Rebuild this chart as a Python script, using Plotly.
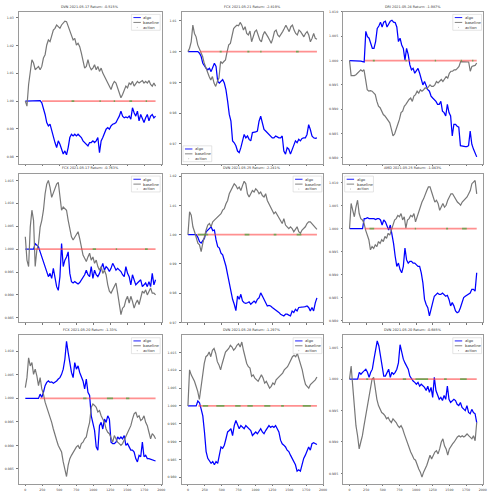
import numpy as np
import plotly.graph_objects as go
from plotly.subplots import make_subplots

W, H = 492, 493

# ---------------- data ----------------
titles = [
    "DVN 2021-05-17 Return: -0.515%",
    "FCX 2021-05-21 Return: -2.819%",
    "DRI 2021-05-24 Return: -1.987%",
    "FCX 2021-05-17 Return: -0.763%",
    "DVN 2021-05-25 Return: -2.241%",
    "AMD 2021-05-25 Return: -1.043%",
    "FCX 2021-05-20 Return: -1.33%",
    "DVN 2021-05-28 Return: -1.297%",
    "DVN 2021-05-20 Return: -0.685%",
]

# last time step of each session
end_step = [1915, 1910, 1910, 1915, 1910, 1910, 1915, 1910, 1910]

algo_1 = [1.0000, 1.0000, 1.0000, 1.0000, 1.0000, 1.0000, 1.0000, 1.0000, 1.0000, 1.0002,
          0.9994, 0.9976, 0.9952, 0.9923, 0.9911, 0.9917, 0.9893, 0.9869, 0.9851, 0.9833,
          0.9857, 0.9845, 0.9827, 0.9810, 0.9821, 0.9807, 0.9833, 0.9869, 0.9881, 0.9875,
          0.9881, 0.9875, 0.9881, 0.9875, 0.9869, 0.9857, 0.9851, 0.9845, 0.9839, 0.9851,
          0.9851, 0.9857, 0.9851, 0.9857, 0.9869, 0.9815, 0.9857, 0.9869, 0.9887, 0.9899,
          0.9905, 0.9899, 0.9911, 0.9917, 0.9919, 0.9923, 0.9935, 0.9946, 0.9964, 0.9946,
          0.9940, 0.9943, 0.9940, 0.9946, 0.9935, 0.9976, 0.9958, 0.9946, 0.9964, 0.9929,
          0.9952, 0.9935, 0.9923, 0.9940, 0.9952, 0.9929, 0.9946, 0.9952, 0.9940, 0.9946]
base_1 = [1.0000, 0.9982, 1.0060, 1.0101, 1.0149, 1.0137, 1.0113, 1.0119, 1.0125, 1.0113,
          1.0125, 1.0155, 1.0167, 1.0202, 1.0220, 1.0214, 1.0232, 1.0256, 1.0262, 1.0274,
          1.0268, 1.0262, 1.0274, 1.0283, 1.0288, 1.0286, 1.0268, 1.0256, 1.0238, 1.0220,
          1.0226, 1.0202, 1.0208, 1.0196, 1.0173, 1.0143, 1.0119, 1.0125, 1.0149, 1.0125,
          1.0113, 1.0119, 1.0131, 1.0113, 1.0125, 1.0107, 1.0119, 1.0101, 1.0089, 1.0077,
          1.0071, 1.0054, 1.0042, 1.0060, 1.0071, 1.0065, 1.0048, 1.0030, 1.0012, 1.0024,
          1.0042, 1.0054, 1.0048, 1.0065, 1.0060, 1.0071, 1.0054, 1.0065, 1.0071, 1.0065,
          1.0071, 1.0074, 1.0065, 1.0071, 1.0065, 1.0074, 1.0060, 1.0054, 1.0065, 1.0054]

algo_2 = [1.0000, 1.0000, 1.0000, 1.0000, 1.0000, 1.0000, 1.0000,
          0.9995, 0.9984, 0.9962, 0.9952, 0.9946, 0.9941, 0.9946, 0.9935, 0.9946, 0.9962,
          0.9952, 0.9903, 0.9898, 0.9903, 0.9909, 0.9898, 0.9876, 0.9839, 0.9796, 0.9774,
          0.9710, 0.9704, 0.9694, 0.9677, 0.9672, 0.9688, 0.9710, 0.9731, 0.9720, 0.9726,
          0.9715, 0.9710, 0.9737, 0.9737, 0.9739, 0.9742, 0.9774, 0.9790, 0.9769, 0.9747,
          0.9742, 0.9737, 0.9731, 0.9726, 0.9720, 0.9720, 0.9726, 0.9723, 0.9720, 0.9720,
          0.9726, 0.9677, 0.9667, 0.9688, 0.9683, 0.9667, 0.9683, 0.9699, 0.9710, 0.9704,
          0.9715, 0.9710, 0.9718, 0.9720, 0.9720, 0.9731, 0.9763, 0.9747, 0.9726, 0.9720,
          0.9718, 0.9720]
base_2 = [1.0000,
          1.0011, 1.0032, 1.0086, 1.0059, 1.0048, 1.0022, 1.0011, 1.0000, 0.9984, 0.9962,
          0.9946, 0.9935, 0.9919, 0.9908, 0.9919, 0.9898, 0.9887, 0.9903, 0.9914, 0.9968,
          0.9962, 0.9968, 0.9973, 1.0000, 1.0022, 1.0027, 1.0054, 1.0075, 1.0081, 1.0086,
          1.0084, 1.0095, 1.0086, 1.0070, 1.0081, 1.0059, 1.0054, 1.0067, 1.0032, 1.0048,
          1.0065, 1.0070, 1.0054, 1.0038, 1.0032, 1.0054, 1.0065, 1.0054, 1.0048, 1.0038,
          1.0027, 1.0043, 1.0065, 1.0070, 1.0054, 1.0048, 1.0059, 1.0065, 1.0075, 1.0086,
          1.0075, 1.0065, 1.0081, 1.0086, 1.0070, 1.0059, 1.0054, 1.0070, 1.0065, 1.0054,
          1.0048, 1.0059, 1.0065, 1.0054, 1.0032, 1.0043, 1.0059, 1.0043, 1.0040]

algo_3 = [1.0000, 1.0000, 1.0000, 1.0000, 1.0000, 1.0000, 1.0000, 0.9999, 0.9998, 0.9997,
          1.0060, 1.0049, 1.0046, 1.0035, 1.0025, 1.0025, 1.0039, 1.0066, 1.0071, 1.0079,
          1.0069, 1.0079, 1.0081, 1.0069, 1.0074, 1.0081, 1.0083, 1.0079, 1.0078, 1.0069,
          1.0039, 1.0046, 1.0032, 1.0025, 1.0001, 1.0025, 1.0012, 0.9991, 0.9981, 0.9984,
          0.9974, 0.9978, 0.9984, 0.9974, 0.9964, 0.9950, 0.9957, 0.9947, 0.9940, 0.9937,
          0.9927, 0.9923, 0.9920, 0.9916, 0.9910, 0.9910, 0.9916, 0.9896, 0.9893, 0.9886,
          0.9910, 0.9893, 0.9886, 0.9845, 0.9869, 0.9869, 0.9865, 0.9863, 0.9825, 0.9824,
          0.9823, 0.9823, 0.9823, 0.9825, 0.9855, 0.9828, 0.9818, 0.9808, 0.9802]
base_3 = [1.0000, 0.9969, 0.9969, 0.9969, 0.9971, 0.9974, 0.9978, 0.9981, 0.9978, 0.9981, 0.9961,
          0.9940, 0.9937, 0.9938, 0.9937, 0.9933, 0.9930, 0.9916, 0.9906, 0.9903, 0.9896,
          0.9889, 0.9886, 0.9882, 0.9876, 0.9872, 0.9859, 0.9845, 0.9849, 0.9862, 0.9869,
          0.9879, 0.9893, 0.9896, 0.9906, 0.9910, 0.9916, 0.9920, 0.9923, 0.9916, 0.9927,
          0.9930, 0.9937, 0.9933, 0.9940, 0.9937, 0.9940, 0.9944, 0.9942, 0.9947, 0.9950,
          0.9947, 0.9947, 0.9950, 0.9957, 0.9954, 0.9957, 0.9961, 0.9957, 0.9961, 0.9967,
          0.9964, 0.9974, 0.9978, 0.9978, 0.9981, 0.9981, 0.9984, 0.9988, 0.9998, 0.9998,
          0.9998, 0.9998, 0.9998, 0.9997, 0.9978, 0.9988, 0.9989, 0.9990, 0.9995]

algo_4 = [1.0000, 1.0000, 1.0000, 1.0000, 1.0000, 1.0000,
          1.0012, 1.0009, 1.0005, 0.9994, 0.9983, 0.9976, 0.9962, 0.9954, 0.9940, 0.9947,
          0.9936, 0.9958, 0.9933, 0.9918, 0.9910, 0.9940, 1.0012, 0.9962, 0.9976, 0.9983,
          0.9994, 0.9947, 0.9929, 0.9926, 0.9929, 0.9926, 0.9924, 0.9927, 0.9933, 0.9936,
          0.9944, 0.9954, 0.9944, 0.9940, 0.9962, 0.9936, 0.9954, 0.9944, 0.9940, 0.9947,
          0.9958, 0.9969, 0.9954, 0.9962, 0.9958, 0.9951, 0.9958, 0.9969, 0.9962, 0.9954,
          0.9958, 0.9954, 0.9951, 0.9944, 0.9940, 0.9962, 0.9947, 0.9940, 0.9922, 0.9944,
          0.9933, 0.9922, 0.9926, 0.9929, 0.9933, 0.9918, 0.9922, 0.9926, 0.9918, 0.9929,
          0.9918, 0.9947, 0.9922, 0.9933]
base_4 = [1.0027, 0.9976, 0.9962, 1.0048, 1.0085, 1.0063, 0.9962, 0.9998, 1.0012, 1.0048,
          1.0063, 1.0085, 1.0121, 1.0142, 1.0150, 1.0135, 1.0113, 1.0124, 1.0135, 1.0142,
          1.0146, 1.0113, 1.0085, 1.0092, 1.0088, 1.0085, 1.0063, 1.0048, 1.0027, 1.0020,
          1.0027, 1.0034, 1.0038, 1.0023, 1.0005, 0.9987, 0.9980, 0.9973, 0.9983, 0.9991,
          0.9976, 0.9983, 0.9969, 0.9976, 0.9962, 0.9954, 0.9962, 0.9947, 0.9954, 0.9944,
          0.9922, 0.9908, 0.9904, 0.9911, 0.9918, 0.9926, 0.9904, 0.9875, 0.9857, 0.9871,
          0.9875, 0.9889, 0.9897, 0.9882, 0.9897, 0.9886, 0.9871, 0.9882, 0.9889, 0.9879,
          0.9897, 0.9908, 0.9904, 0.9911, 0.9900, 0.9908, 0.9915, 0.9904, 0.9904, 0.9900]

algo_5 = [1.0000, 1.0000, 1.0000, 1.0000, 1.0000, 1.0000,
          0.9991, 0.9976, 0.9971, 0.9982, 0.9988, 1.0010, 1.0016, 1.0021, 1.0027, 1.0014,
          1.0016, 0.9982, 0.9959, 0.9954, 0.9937, 0.9931, 0.9914, 0.9892, 0.9863, 0.9830,
          0.9801, 0.9779, 0.9762, 0.9740, 0.9790, 0.9779, 0.9796, 0.9773, 0.9767, 0.9765,
          0.9767, 0.9770, 0.9762, 0.9767, 0.9773, 0.9767, 0.9779, 0.9784, 0.9801, 0.9790,
          0.9779, 0.9767, 0.9756, 0.9758, 0.9756, 0.9751, 0.9747, 0.9745, 0.9739, 0.9734,
          0.9728, 0.9725, 0.9722, 0.9728, 0.9728, 0.9725, 0.9722, 0.9739, 0.9734, 0.9745,
          0.9739, 0.9751, 0.9751, 0.9751, 0.9753, 0.9754, 0.9756, 0.9751, 0.9739, 0.9751,
          0.9739, 0.9767, 0.9784]
base_5 = [1.0000, 1.0078, 1.0067, 1.0027, 1.0010, 0.9988, 0.9971, 0.9965, 0.9942, 0.9971,
          0.9999, 1.0016, 1.0033, 1.0038, 1.0027, 1.0044, 1.0050, 1.0055, 1.0061, 1.0067,
          1.0072, 1.0084, 1.0089, 1.0106, 1.0117, 1.0140, 1.0151, 1.0163, 1.0174, 1.0168,
          1.0157, 1.0163, 1.0151, 1.0168, 1.0183, 1.0174, 1.0140, 1.0129, 1.0140, 1.0151,
          1.0146, 1.0157, 1.0151, 1.0140, 1.0146, 1.0134, 1.0129, 1.0140, 1.0117, 1.0106,
          1.0095, 1.0084, 1.0072, 1.0078, 1.0067, 1.0061, 1.0050, 1.0038, 1.0055, 1.0033,
          1.0027, 1.0021, 1.0027, 1.0021, 1.0010, 1.0021, 1.0027, 1.0010, 1.0005, 1.0016,
          1.0021, 1.0027, 1.0038, 1.0044, 1.0044, 1.0038, 1.0033, 1.0027, 1.0018]

algo_6 = [1.0000, 1.0000, 1.0000, 1.0000, 1.0000, 1.0000, 1.0000, 1.0000, 1.0000,
          1.0022, 1.0022, 1.0024, 1.0022, 1.0022, 1.0022, 1.0022, 1.0020, 1.0022, 1.0022,
          1.0019, 1.0008, 1.0019, 1.0015, 1.0004, 0.9997, 1.0008, 0.9990, 0.9968, 0.9940,
          0.9918, 0.9925, 0.9911, 0.9904, 0.9918, 0.9958, 0.9932, 0.9925, 0.9929, 0.9929,
          0.9925, 0.9925, 0.9922, 0.9918, 0.9918, 0.9904, 0.9882, 0.9846, 0.9835, 0.9828,
          0.9810, 0.9828, 0.9839, 0.9853, 0.9857, 0.9860, 0.9857, 0.9857, 0.9860, 0.9857,
          0.9853, 0.9855, 0.9846, 0.9832, 0.9839, 0.9832, 0.9821, 0.9817, 0.9819, 0.9828,
          0.9839, 0.9850, 0.9853, 0.9855, 0.9857, 0.9860, 0.9868, 0.9868, 0.9864, 0.9904]
base_6 = [1.0000,
          1.0055, 1.0040, 1.0026, 1.0047, 1.0062, 1.0033, 1.0022, 1.0019, 1.0012, 0.9997,
          0.9986, 0.9976, 0.9954, 0.9961, 0.9957, 0.9965, 0.9961, 0.9972, 0.9968, 0.9976,
          0.9972, 0.9983, 0.9979, 0.9990, 0.9986, 0.9997, 1.0008, 1.0019, 1.0022, 1.0029,
          1.0026, 1.0033, 1.0019, 1.0026, 1.0001, 1.0019, 1.0022, 1.0029, 1.0026, 1.0033,
          1.0015, 1.0026, 1.0040, 1.0047, 1.0058, 1.0065, 1.0076, 1.0083, 1.0091, 1.0091,
          1.0080, 1.0069, 1.0058, 1.0062, 1.0055, 1.0040, 1.0047, 1.0055, 1.0047, 1.0051,
          1.0062, 1.0069, 1.0076, 1.0076, 1.0069, 1.0062, 1.0058, 1.0055, 1.0051, 1.0058,
          1.0062, 1.0065, 1.0069, 1.0076, 1.0083, 1.0098, 1.0101, 1.0105, 1.0076]

algo_7 = [1.0000, 1.0000, 1.0000, 1.0000, 1.0000, 1.0000, 1.0000, 1.0000, 1.0000, 1.0009,
          1.0002, 1.0013, 1.0027, 1.0034, 1.0037, 1.0034, 1.0035, 1.0032, 1.0034, 1.0037,
          1.0041, 1.0044, 1.0051, 1.0062, 1.0083, 1.0121, 1.0097, 1.0076, 1.0055, 1.0044,
          1.0076, 1.0062, 1.0069, 1.0055, 1.0044, 1.0037, 1.0020, 1.0041, 1.0013, 1.0006,
          0.9963, 0.9949, 0.9932, 0.9897, 0.9890, 0.9942, 0.9949, 0.9935, 0.9956, 0.9949,
          0.9963, 0.9956, 0.9907, 0.9904, 0.9904, 0.9907, 0.9918, 0.9914, 0.9918, 0.9914,
          0.9921, 0.9900, 0.9904, 0.9897, 0.9890, 0.9890, 0.9886, 0.9872, 0.9865, 0.9879,
          0.9876, 0.9907, 0.9876, 0.9879, 0.9872, 0.9872, 0.9871, 0.9870, 0.9869, 0.9867]
base_7 = [1.0023, 1.0044, 1.0086, 1.0069, 1.0076, 1.0051, 1.0062, 1.0048, 1.0027, 1.0044,
          1.0020, 1.0009, 0.9992, 0.9981, 0.9971, 0.9963, 0.9949, 0.9935, 0.9921, 0.9911,
          0.9900, 0.9893, 0.9886, 0.9865, 0.9848, 0.9834, 0.9858, 0.9872, 0.9879, 0.9886,
          0.9890, 0.9897, 0.9900, 0.9893, 0.9904, 0.9907, 0.9914, 0.9918, 0.9935, 0.9949,
          0.9981, 0.9988, 0.9985, 0.9981, 0.9971, 0.9974, 0.9963, 0.9956, 0.9949, 0.9935,
          0.9928, 0.9925, 0.9914, 0.9907, 0.9921, 0.9914, 0.9907, 0.9904, 0.9900, 0.9904,
          0.9911, 0.9921, 0.9928, 0.9935, 0.9942, 0.9956, 0.9967, 0.9971, 0.9960, 0.9963,
          0.9953, 0.9956, 0.9963, 0.9949, 0.9942, 0.9928, 0.9914, 0.9925, 0.9921, 0.9914]

algo_8 = [1.0000, 1.0000, 1.0000, 1.0000, 1.0000, 1.0000,
          1.0014, 1.0009, 0.9991, 0.9972, 0.9927, 0.9872, 0.9853, 0.9844, 0.9839, 0.9844,
          0.9835, 0.9844, 0.9839, 0.9862, 0.9885, 0.9881, 0.9890, 0.9908, 0.9927, 0.9931,
          0.9936, 0.9917, 0.9945, 0.9959, 0.9945, 0.9936, 0.9945, 0.9940, 0.9936, 0.9945,
          0.9940, 0.9936, 0.9931, 0.9917, 0.9922, 0.9927, 0.9922, 0.9931, 0.9936, 0.9927,
          0.9922, 0.9931, 0.9940, 0.9945, 0.9940, 0.9943, 0.9940, 0.9945, 0.9936, 0.9927,
          0.9904, 0.9894, 0.9890, 0.9885, 0.9876, 0.9872, 0.9862, 0.9853, 0.9844, 0.9835,
          0.9817, 0.9821, 0.9817, 0.9839, 0.9853, 0.9862, 0.9872, 0.9885, 0.9876, 0.9894,
          0.9897, 0.9894, 0.9892]
base_8 = [1.0000,
          1.0101, 1.0087, 1.0078, 1.0069, 1.0055, 1.0041, 1.0018, 1.0055, 1.0083, 1.0119,
          1.0138, 1.0142, 1.0151, 1.0138, 1.0156, 1.0161, 1.0147, 1.0124, 1.0115, 1.0101,
          1.0119, 1.0138, 1.0151, 1.0156, 1.0161, 1.0170, 1.0165, 1.0156, 1.0161, 1.0170,
          1.0174, 1.0165, 1.0179, 1.0156, 1.0138, 1.0119, 1.0110, 1.0106, 1.0083, 1.0087,
          1.0078, 1.0073, 1.0069, 1.0078, 1.0087, 1.0078, 1.0064, 1.0069, 1.0060, 1.0050,
          1.0055, 1.0064, 1.0060, 1.0073, 1.0078, 1.0083, 1.0087, 1.0092, 1.0101, 1.0106,
          1.0110, 1.0119, 1.0128, 1.0138, 1.0142, 1.0138, 1.0147, 1.0133, 1.0119, 1.0101,
          1.0078, 1.0060, 1.0055, 1.0050, 1.0060, 1.0064, 1.0069, 1.0073, 1.0081]

algo_9 = [1.0000, 1.0000, 1.0000, 1.0000, 1.0000, 1.0000,
          1.0011, 1.0008, 1.0011, 1.0013, 1.0016, 1.0011, 1.0003, 1.0011, 1.0016, 1.0032,
          1.0048, 1.0061, 1.0053, 1.0037, 1.0026, 1.0005, 1.0005, 1.0011, 1.0016, 1.0003,
          1.0011, 1.0008, 1.0011, 1.0016, 1.0026, 1.0055, 1.0042, 1.0032, 1.0026, 1.0021,
          1.0016, 1.0005, 1.0000, 0.9997, 0.9995, 0.9992, 0.9995, 0.9989, 0.9992, 0.9989,
          0.9987, 0.9982, 0.9989, 0.9979, 0.9987, 0.9971, 1.0003, 0.9982, 0.9974, 0.9968,
          0.9971, 0.9966, 0.9974, 0.9968, 0.9989, 0.9968, 0.9963, 0.9966, 0.9968, 0.9966,
          0.9960, 0.9958, 0.9963, 0.9955, 0.9952, 0.9950, 0.9958, 0.9947, 0.9945, 0.9952,
          0.9947, 0.9945, 0.9931]
base_9 = [1.0000,
          1.0021, 0.9989, 0.9958, 0.9926, 0.9910, 0.9889, 0.9900, 0.9910, 0.9926, 0.9942,
          0.9958, 0.9974, 0.9989, 1.0000, 1.0003, 0.9984, 0.9968, 0.9958, 0.9952, 0.9947,
          0.9945, 0.9942, 0.9937, 0.9939, 0.9934, 0.9931, 0.9937, 0.9934, 0.9931, 0.9926,
          0.9923, 0.9926, 0.9921, 0.9913, 0.9905, 0.9900, 0.9892, 0.9884, 0.9879, 0.9873,
          0.9871, 0.9863, 0.9857, 0.9852, 0.9844, 0.9852, 0.9857, 0.9863, 0.9871, 0.9879,
          0.9873, 0.9879, 0.9884, 0.9886, 0.9881, 0.9889, 0.9900, 0.9905, 0.9894, 0.9889,
          0.9879, 0.9889, 0.9894, 0.9897, 0.9900, 0.9905, 0.9908, 0.9910, 0.9908, 0.9910,
          0.9908, 0.9910, 0.9913, 0.9910, 0.9908, 0.9905, 0.9910, 0.9902, 0.9931]

# step at which the first action is taken, and stretches of buy actions
action_start = [245, 180, 230, 140, 135, 230, 215, 155, 135]
buy_windows = [
    [(680, 720), (1090, 1110), (1300, 1320), (1530, 1570), (1770, 1790)],
    [(470, 500), (880, 910), (1070, 1090), (1600, 1640)],
    [(350, 380), (840, 860), (1280, 1300), (1670, 1690), (1840, 1860)],
    [(990, 1040), (1330, 1350), (1760, 1800)],
    [(150, 300), (840, 910), (1270, 1310), (1610, 1680)],
    [(300, 370), (980, 1000), (1450, 1480), (1690, 1760)],
    [(850, 900), (1200, 1290), (1480, 1530)],
    [(220, 300), (420, 540), (700, 780), (880, 960), (1130, 1220), (1380, 1420), (1700, 1820)],
    [(250, 280), (800, 850), (990, 1180), (1420, 1460), (1660, 1760)],
]

x_ticks = [0, 250, 500, 750, 1000, 1250, 1500, 1750, 2000]

# ---------------- layout settings ----------------
y_ranges = [
    [0.9775, 1.0321], [0.9636, 1.0129], [0.9788, 1.0100],
    [0.9840, 1.0165], [0.9700, 1.0209], [0.9796, 1.0120],
    [0.9818, 1.0134], [0.9781, 1.0198], [0.9833, 1.0070],
]
y_dticks = [0.01, 0.01, 0.005, 0.005, 0.01, 0.005, 0.005, 0.005, 0.005]
y_formats = [".2f", ".2f", ".3f", ".3f", ".2f", ".3f", ".3f", ".3f", ".3f"]
legend_corner = ["tr", "bl", "tr", "tr", "tr", "tl", "tr", "tr", "tr"]

col_px = [(19, 163), (183, 326), (346, 487)]
row_px = [(10, 163), (173, 323), (336, 486)]

BLUE = "#0000ff"
GREY = "#777777"
SELL = "rgba(255,70,70,0.6)"
BUY = "rgba(60,170,60,0.7)"
FONT = "DejaVu Sans"

panels = [(algo_1, base_1), (algo_2, base_2), (algo_3, base_3),
          (algo_4, base_4), (algo_5, base_5), (algo_6, base_6),
          (algo_7, base_7), (algo_8, base_8), (algo_9, base_9)]

fig = make_subplots(rows=3, cols=3)

for k, (algo, base) in enumerate(panels):
    r, c = divmod(k, 3)
    xa = np.linspace(0, end_step[k], len(algo))
    xb = np.linspace(0, end_step[k], len(base))
    fig.add_trace(go.Scatter(x=xa, y=algo, mode="lines", name="algo",
                             line=dict(color=BLUE, width=1.25), showlegend=False),
                  row=r + 1, col=c + 1)
    fig.add_trace(go.Scatter(x=xb, y=base, mode="lines", name="baseline",
                             line=dict(color=GREY, width=1.2), showlegend=False),
                  row=r + 1, col=c + 1)
    fig.add_trace(go.Scatter(x=[action_start[k], end_step[k]], y=[1.0, 1.0],
                             mode="lines", name="action",
                             line=dict(color=SELL, width=1.8), showlegend=False),
                  row=r + 1, col=c + 1)
    gx, gy = [], []
    for a, b in buy_windows[k]:
        gx += [a, b, None]
        gy += [1.0, 1.0, None]
    fig.add_trace(go.Scatter(x=gx, y=gy, mode="lines", name="action",
                             line=dict(color=BUY, width=1.8), showlegend=False),
                  row=r + 1, col=c + 1)

axis_style = dict(showline=True, mirror=True, linecolor="#9a9a9a", linewidth=0.7,
                  ticks="outside", ticklen=1.5, tickwidth=0.5, tickcolor="#777",
                  showgrid=False, zeroline=False,
                  tickfont=dict(family=FONT, size=3.2, color="#444"))

annotations = []
shapes = []
for k in range(9):
    r, c = divmod(k, 3)
    sfx = "" if k == 0 else str(k + 1)
    x0, x1 = col_px[c]
    top, bot = row_px[r]
    fig.layout["xaxis" + sfx].update(domain=[x0 / W, x1 / W], range=[-95, 2005],
                                     tickvals=x_ticks, showticklabels=(r == 2),
                                     ticklabelstandoff=1, **axis_style)
    fig.layout["yaxis" + sfx].update(domain=[1 - bot / H, 1 - top / H], range=y_ranges[k],
                                     tick0=1.0, dtick=y_dticks[k], tickformat=y_formats[k],
                                     ticklabelstandoff=2, **axis_style)
    annotations.append(dict(text=titles[k], x=(x0 + x1) / 2 / W, y=1 - (top - 1.2) / H,
                            xref="paper", yref="paper", xanchor="center", yanchor="bottom",
                            showarrow=False, font=dict(family=FONT, size=3.4, color="#333")))

    # legend box
    bw, bh = 29, 16
    if legend_corner[k] == "tr":
        lx, ly = x1 - 1.5 - bw, top + 2.5
    elif legend_corner[k] == "tl":
        lx, ly = x0 + 1.5, top + 2.5
    else:
        lx, ly = x0 + 1.5, bot - 2.0 - bh
    shapes.append(dict(type="rect", xref="paper", yref="paper", layer="above",
                       x0=lx / W, x1=(lx + bw) / W, y0=1 - (ly + bh) / H, y1=1 - ly / H,
                       line=dict(color="#d4d4d4", width=0.6),
                       fillcolor="rgba(255,255,255,0.85)"))
    for i, (lab, colr) in enumerate([("algo", BLUE), ("baseline", GREY), ("action", None)]):
        yy = ly + 3.2 + i * 4.9
        if colr:
            shapes.append(dict(type="line", xref="paper", yref="paper", layer="above",
                               x0=(lx + 2) / W, x1=(lx + 9.5) / W,
                               y0=1 - yy / H, y1=1 - yy / H,
                               line=dict(color=colr, width=0.9)))
        else:
            shapes.append(dict(type="circle", xref="paper", yref="paper", layer="above",
                               x0=(lx + 5.3) / W, x1=(lx + 6.3) / W,
                               y0=1 - (yy + 0.5) / H, y1=1 - (yy - 0.5) / H,
                               line=dict(width=0), fillcolor="#999"))
        annotations.append(dict(text=lab, x=(lx + 11) / W, y=1 - yy / H,
                                xref="paper", yref="paper", xanchor="left", yanchor="middle",
                                showarrow=False, borderpad=0,
                                font=dict(family=FONT, size=3.8, color="#333")))

fig.update_layout(width=W, height=H, margin=dict(l=0, r=0, t=0, b=0),
                  paper_bgcolor="white", plot_bgcolor="white",
                  annotations=annotations, shapes=shapes, showlegend=False)

fig.write_html("out.html")
